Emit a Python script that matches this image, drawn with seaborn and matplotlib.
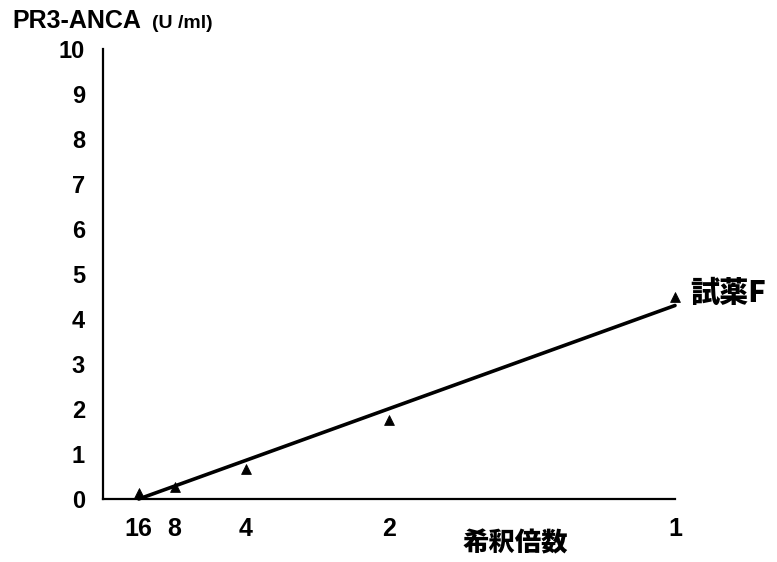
import matplotlib
matplotlib.use("Agg")
import matplotlib.pyplot as plt
import seaborn as sns
import pandas as pd

# Dilution series and measured PR3-ANCA values
dilution_factors = [16, 8, 4, 2, 1]
dilution_labels = ["16", "8", "4", "2", "1"]
pr3_values = [0.13, 0.27, 0.67, 1.75, 4.5]

# Regression line endpoints (relative concentration, U/ml)
fit_conc = [1 / 16, 1.0]
fit_values = [0.0, 4.3]

y_ticks = [0, 1, 2, 3, 4, 5, 6, 7, 8, 9, 10]

sns.set_style("white")
plt.rcParams["font.family"] = ["Liberation Sans", "Noto Sans CJK JP", "DejaVu Sans"]
for key in ["text.color", "axes.labelcolor", "xtick.color", "ytick.color"]:
    plt.rcParams[key] = "black"

conc = [1 / d for d in dilution_factors]
df = pd.DataFrame({"conc": conc, "value": pr3_values})
fit_df = pd.DataFrame({"conc": fit_conc, "value": fit_values})

fig = plt.figure(figsize=(7.77, 5.62), dpi=100)
ax = fig.add_axes([103 / 777, 1 - 499 / 562, (675 - 103) / 777, (499 - 49) / 562])

sns.lineplot(data=fit_df, x="conc", y="value", ax=ax, color="black",
             linewidth=2.6, clip_on=False)
sns.scatterplot(data=df, x="conc", y="value", ax=ax, marker="^", color="black",
                s=50, edgecolor="black", clip_on=False, zorder=5)

ax.set_xlim(0, 1)
ax.set_ylim(0, 10)
for side in ["top", "right"]:
    ax.spines[side].set_visible(False)
for side in ["left", "bottom"]:
    ax.spines[side].set_linewidth(1.6)
    ax.spines[side].set_color("black")

ax.set_yticks(y_ticks)
ax.set_yticklabels([str(t) for t in y_ticks], fontsize=17, fontweight="bold")
ax.tick_params(axis="y", direction="in", length=4, width=1.2, pad=13, colors="black")

ax.xaxis.remove_overlapping_locs = False
ax.set_xticks(conc)
ax.set_xticklabels(dilution_labels, fontsize=18, fontweight="bold")
ax.tick_params(axis="x", direction="out", length=6, width=1.4, pad=7, colors="black")
ax.xaxis.get_major_ticks()[-1].tick1line.set_visible(False)
ax.set_xticks([1.0], minor=True)
ax.tick_params(axis="x", which="minor", direction="in", length=6, width=1.4,
               colors="black")

ax.set_xlabel("")
ax.set_ylabel("")

fig.text(12 / 777, 1 - 28 / 562, "PR3-ANCA", fontsize=18, fontweight="bold",
         ha="left", va="baseline")
fig.text(152 / 777, 1 - 28 / 562, "(U /ml)", fontsize=14, fontweight="bold",
         ha="left", va="baseline")

ax.text(1.026, 4.58, "試薬F", fontsize=21, fontweight="heavy",
        family=["Noto Sans CJK JP", "DejaVu Sans"], ha="left", va="center")
fig.text(515 / 777, 1 - 543 / 562, "希釈倍数", fontsize=19, fontweight="heavy",
         family=["Noto Sans CJK JP", "DejaVu Sans"], ha="center", va="center")

fig.savefig("out.png", dpi=100, facecolor="white")
